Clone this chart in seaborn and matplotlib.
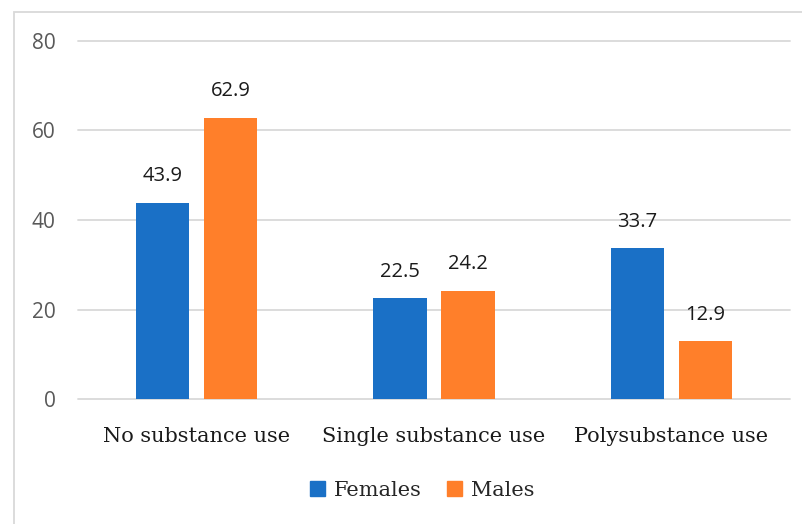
import numpy as np
import pandas as pd
import matplotlib.pyplot as plt
import seaborn as sns
from matplotlib.patches import Rectangle

categories = ['No substance use', 'Single substance use', 'Polysubstance use']
females = [43.9, 22.5, 33.7]
males = [62.9, 24.2, 12.9]
series = ['Females', 'Males']
colors = ['#1A70C6', '#FF7F2A']

df = pd.DataFrame({
    'Category': categories * 2,
    'Value': females + males,
    'Sex': ['Females'] * 3 + ['Males'] * 3,
})

sns.set_style('white')
fig = plt.figure(figsize=(8.03, 5.24), dpi=100)
ax = fig.add_axes([78 / 803, 1 - 399 / 524, 712 / 803, 358 / 524])

sns.barplot(data=df, x='Category', y='Value', hue='Sex', hue_order=series,
            palette=colors, width=0.573, gap=0.22, saturation=1,
            linewidth=0, legend=False, ax=ax)

ax.set_xlim(-0.5, 2.5)
ax.set_ylim(0, 80)
ax.set_yticks([0, 20, 40, 60, 80])
ax.yaxis.grid(True, color='#D9D9D9', linewidth=1.3)
for gl in ax.get_ygridlines():
    gl.set_clip_on(False)
ax.set_axisbelow(True)
for s in ax.spines.values():
    s.set_visible(False)
ax.set_xlabel('')
ax.set_ylabel('')
ax.tick_params(axis='y', length=0, pad=16, labelsize=15, labelcolor='#595959')
ax.tick_params(axis='x', length=0, pad=20)
for lab in ax.get_yticklabels():
    lab.set_family('Open Sans')
for lab in ax.get_xticklabels():
    lab.set_family('DejaVu Serif')
    lab.set_fontsize(15)
    lab.set_color('#1a1a1a')

# data labels
for cont in ax.containers:
    for bar in cont:
        h = bar.get_height()
        ax.annotate(f'{h:.1f}', (bar.get_x() + bar.get_width() / 2, h),
                    xytext=(0, 12), textcoords='offset points',
                    ha='center', va='bottom', fontsize=14.5,
                    family='Open Sans', color='#1a1a1a')

handles = [Rectangle((0, 0), 1, 1, color=c) for c in colors]
fig.legend(handles, series, loc='center', bbox_to_anchor=(422 / 803, 1 - 490 / 524),
           ncol=2, frameon=False, prop={'family': 'DejaVu Serif', 'size': 15},
           handlelength=0.75, handleheight=0.75, handletextpad=0.4, columnspacing=1.2)

# outer chart border
fig.add_artist(Rectangle((14 / 803, -0.01), 1.0, 1 - 12 / 524 + 0.01,
                         transform=fig.transFigure, fill=False,
                         edgecolor='#D9D9D9', linewidth=1.3))

fig.savefig('out.png', dpi=100)
